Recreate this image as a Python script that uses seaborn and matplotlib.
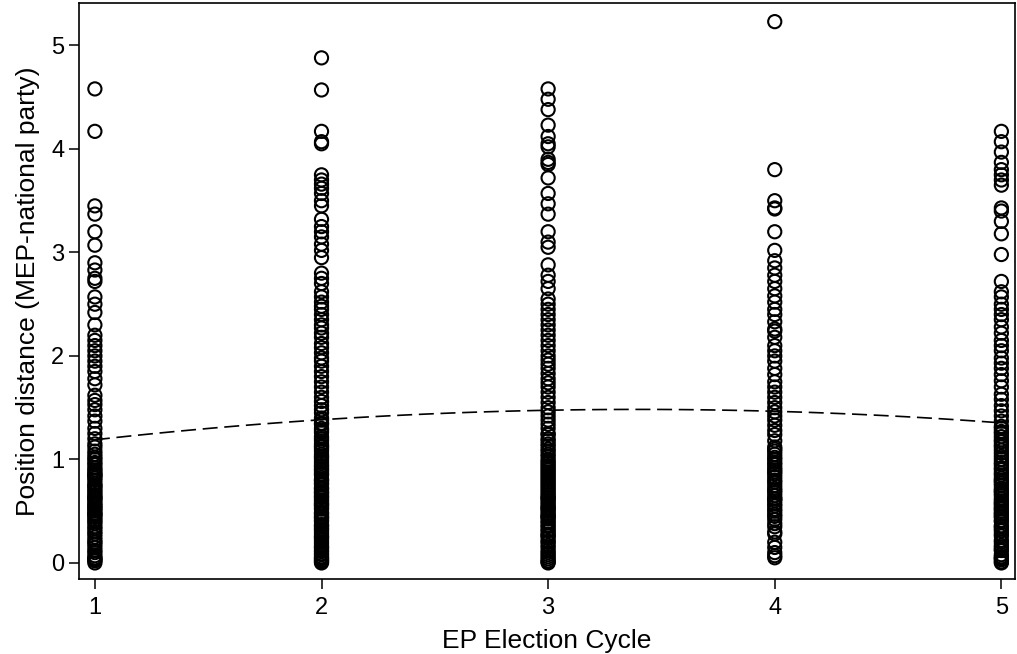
import numpy as np
import pandas as pd
import matplotlib
matplotlib.use("Agg")
import matplotlib.pyplot as plt
import seaborn as sns

# position distance per EP election cycle (read off the picture;
# the low range is heavily overplotted, so it carries many points)
cycle1 = [4.58, 4.17, 3.45, 3.37, 3.20, 3.07, 2.90, 2.83, 2.75, 2.72, 2.57, 2.50,
          2.42, 2.30, 2.20, 2.15, 2.10, 2.05, 2.00, 1.95, 1.90, 1.85, 1.78, 1.72,
          1.62, 1.57, 1.53, 1.48, 1.42, 1.37, 1.30, 1.25, 1.20, 1.12, 1.05, 1.00,
          0.95, 0.92, 0.88, 0.84, 0.80, 0.75, 0.70, 0.66, 0.62, 0.58, 0.55, 0.50,
          0.46, 0.42, 0.38, 0.33, 0.28, 0.25, 0.20, 0.10, 0.05, 0.03, 0.00,
          0.02, 0.04, 0.07, 0.12, 0.15, 0.18, 0.22, 0.30, 0.35, 0.40, 0.44, 0.48,
          0.52, 0.56, 0.60, 0.64, 0.68, 0.72, 0.77, 0.82, 0.86, 0.90, 0.97, 1.02,
          1.08, 1.15, 0.53, 0.47, 0.63, 0.74, 0.85]
cycle2 = [4.88, 4.57, 4.17, 4.07, 4.05, 3.75, 3.70, 3.66, 3.62, 3.57, 3.50, 3.45,
          3.32, 3.25, 3.20, 3.15, 3.08, 3.02, 2.95, 2.80, 2.75, 2.70, 2.62, 2.57,
          2.52, 2.48, 2.45, 2.40, 2.35, 2.30, 2.27, 2.22, 2.18, 2.12, 2.08, 2.03,
          1.98, 1.95, 1.90, 1.85, 1.80, 1.75, 1.70, 1.65, 1.60, 1.56, 1.52, 1.48,
          1.45, 1.40, 1.35, 1.30, 1.26, 1.22, 1.18, 1.12, 1.08, 1.02, 0.98, 0.94,
          0.90, 0.85, 0.80, 0.76, 0.72, 0.68, 0.64, 0.60, 0.56, 0.52, 0.48, 0.44,
          0.40, 0.36, 0.32, 0.28, 0.24, 0.20, 0.16, 0.12, 0.08, 0.05, 0.02, 0.00,
          0.01, 0.03, 0.06, 0.09, 0.11, 0.14, 0.18, 0.22, 0.26, 0.30,
          0.33, 0.37, 0.41, 0.45, 0.49, 0.53, 0.57, 0.61, 0.65, 0.69,
          0.73, 0.77, 0.81, 0.86, 0.91, 0.96, 1.00, 1.05, 1.10, 1.15,
          1.20, 1.28, 1.34, 1.38, 0.04, 0.15, 0.25, 0.35, 0.47, 0.55,
          0.63, 0.71, 0.79, 0.88, 0.93, 1.03, 1.13, 0.58, 0.43, 0.67]
cycle3 = [4.58, 4.48, 4.38, 4.23, 4.12, 4.05, 4.02, 3.90, 3.87, 3.85, 3.72, 3.57,
          3.47, 3.37, 3.20, 3.10, 3.05, 2.88, 2.78, 2.72, 2.65, 2.55, 2.50, 2.45,
          2.40, 2.35, 2.30, 2.25, 2.20, 2.15, 2.10, 2.05, 2.00, 1.96, 1.92, 1.88,
          1.83, 1.78, 1.74, 1.70, 1.65, 1.60, 1.55, 1.50, 1.46, 1.42, 1.38, 1.34,
          1.30, 1.25, 1.20, 1.15, 1.10, 1.05, 1.00, 0.96, 0.92, 0.88, 0.84, 0.80,
          0.76, 0.72, 0.68, 0.64, 0.60, 0.56, 0.52, 0.48, 0.44, 0.40, 0.36, 0.32,
          0.28, 0.24, 0.20, 0.15, 0.10, 0.06, 0.02, 0.00,
          0.01, 0.04, 0.08, 0.12, 0.17, 0.21, 0.26, 0.31, 0.35, 0.39,
          0.43, 0.46, 0.50, 0.54, 0.58, 0.62, 0.66, 0.70, 0.74, 0.78,
          0.82, 0.86, 0.90, 0.94, 0.98, 1.03, 1.08, 1.13, 1.18, 1.24,
          0.53, 0.45, 0.63, 0.27]
cycle4 = [5.23, 3.80, 3.50, 3.43, 3.42, 3.20, 3.02, 2.92, 2.85, 2.78, 2.72, 2.65,
          2.58, 2.52, 2.45, 2.40, 2.33, 2.26, 2.24, 2.18, 2.10, 2.05, 2.00, 1.95,
          1.88, 1.82, 1.75, 1.70, 1.65, 1.60, 1.55, 1.50, 1.46, 1.42, 1.38, 1.33,
          1.28, 1.24, 1.18, 1.12, 1.08, 1.02, 0.97, 0.92, 0.88, 0.83, 0.78, 0.72,
          0.68, 0.62, 0.57, 0.52, 0.47, 0.42, 0.35, 0.28, 0.20, 0.10, 0.07, 0.05,
          0.30, 0.38, 0.45, 0.50, 0.55, 0.60, 0.65, 0.70, 0.75, 0.80, 0.86, 0.90,
          0.95, 1.00, 1.05, 1.10, 0.15, 0.62]
cycle5 = [4.17, 4.07, 3.97, 3.87, 3.80, 3.75, 3.70, 3.65, 3.43, 3.40, 3.30, 3.18,
          2.98, 2.72, 2.62, 2.57, 2.50, 2.45, 2.40, 2.35, 2.28, 2.22, 2.15, 2.10,
          2.05, 1.98, 1.93, 1.88, 1.82, 1.76, 1.70, 1.63, 1.58, 1.52, 1.47, 1.42,
          1.37, 1.32, 1.27, 1.22, 1.17, 1.12, 1.06, 1.00, 0.95, 0.90, 0.85, 0.80,
          0.75, 0.70, 0.65, 0.60, 0.55, 0.50, 0.45, 0.40, 0.35, 0.28, 0.20, 0.12,
          0.06, 0.03, 0.00,
          0.01, 0.04, 0.08, 0.13, 0.17, 0.22, 0.26, 0.31, 0.36, 0.41,
          0.44, 0.48, 0.52, 0.57, 0.62, 0.67, 0.72, 0.77, 0.82, 0.87,
          0.92, 0.97, 1.03, 1.09, 1.14, 1.19, 1.25, 1.30, 0.33, 0.53,
          0.47, 0.58, 0.69, 0.79, 0.15, 0.05]

cycles = [1, 2, 3, 4, 5]
x_ticks = [1, 2, 3, 4, 5]
y_ticks = [0, 1, 2, 3, 4, 5]

rows = []
for c, vals in zip(cycles, [cycle1, cycle2, cycle3, cycle4, cycle5]):
    for v in vals:
        rows.append((c, v))
df = pd.DataFrame(rows, columns=["cycle", "distance"])

sns.set_style("ticks")
plt.rcParams["font.family"] = ["Liberation Sans", "DejaVu Sans"]

fig = plt.figure(figsize=(10.17, 6.54), dpi=100, facecolor="white")
ax = fig.add_axes([0.0777, 0.1147, 0.9203, 0.8807])

sns.scatterplot(data=df, x="cycle", y="distance", ax=ax, marker="o", s=90,
                facecolor="none", edgecolor="black", linewidth=1.5, zorder=3)

# quadratic fit, dashed
sns.regplot(data=df, x="cycle", y="distance", ax=ax, order=2, ci=None, scatter=False,
            line_kws=dict(color="black", linewidth=1.2, linestyle=(0, (9, 4))))

ax.set_xlim(0.93, 5.06)
ax.set_ylim(-0.155, 5.41)
ax.set_xticks(x_ticks)
ax.set_yticks(y_ticks)
ax.tick_params(axis="both", direction="out", length=7, width=1.1, labelsize=17,
               color="black", labelcolor="black")
ax.tick_params(axis="x", pad=6)
for s in ax.spines.values():
    s.set_visible(True)
    s.set_color("black")
    s.set_linewidth(1.2)

ax.set_xlabel("EP Election Cycle", fontsize=19, labelpad=7, color="black")
ax.set_ylabel("Position distance (MEP-national party)", fontsize=19, labelpad=8,
              color="black")

fig.savefig("out.png", dpi=100, facecolor="white")
